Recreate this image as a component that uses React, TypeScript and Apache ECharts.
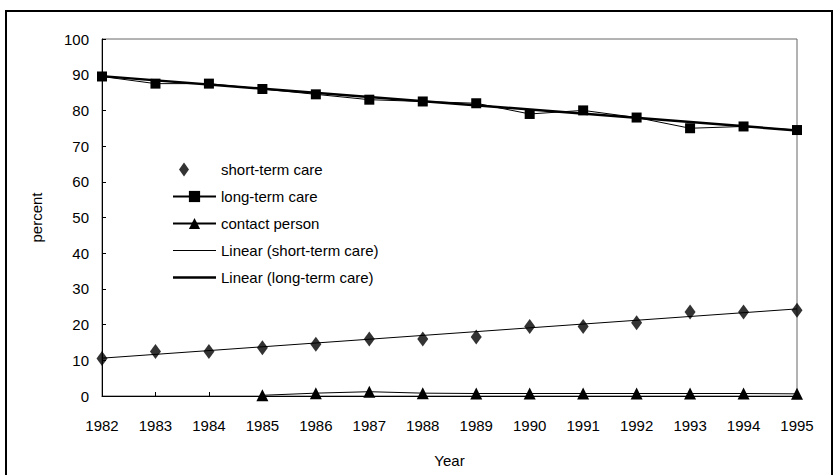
import React, { useEffect, useRef } from "react";
import * as echarts from "echarts";

const years = ["1982","1983","1984","1985","1986","1987","1988","1989","1990","1991","1992","1993","1994","1995"];
const shortTerm = [10.5, 12.5, 12.5, 13.5, 14.5, 16, 16, 16.5, 19.5, 19.5, 20.5, 23.5, 23.5, 24];
const longTerm = [89.5, 87.5, 87.5, 86, 84.5, 83, 82.5, 82, 79, 80, 78, 75, 75.5, 74.5];
const contact = [null, null, null, 0.2, 0.8, 1.2, 0.8, 0.7, 0.7, 0.7, 0.7, 0.7, 0.7, 0.6];
const linShort = [10.6, null, null, null, null, null, null, null, null, null, null, null, null, 24.4];
const linLong = [89.6, null, null, null, null, null, null, null, null, null, null, null, null, 74.4];

const diamondIcon = "path://M0,0M43,14M11,0L16,7L11,14L6,7Z";
const thinLineIcon = "path://M0,0M43,14M0,6.5L43,6.5L43,7.5L0,7.5Z";
const thickLineIcon = "path://M0,0M43,14M0,5.75L43,5.75L43,8.25L0,8.25Z";

export default function App() {
  const ref = useRef<HTMLDivElement>(null);
  useEffect(() => {
    const chart = echarts.init(ref.current!, null, { renderer: "svg" });
    const font = "Liberation Sans";
    chart.setOption({
      animation: false,
      backgroundColor: "#fff",
      textStyle: { fontFamily: font },
      graphic: [
        { type: "rect", shape: { x: 6, y: 11, width: 826, height: 480 }, style: { fill: "none", stroke: "#000", lineWidth: 2 } },
      ],
      grid: { left: 102, right: 38, top: 39, bottom: 79, show: true, borderColor: "#666", borderWidth: 1 },
      legend: {
        orient: "vertical",
        left: 167,
        top: 157,
        itemWidth: 43,
        itemHeight: 14,
        itemGap: 12,
        textStyle: { fontFamily: font, fontSize: 15, color: "#000" },
        data: [
          { name: "short-term care", icon: diamondIcon },
          { name: "long-term care" },
          { name: "contact person" },
          { name: "Linear (short-term care)", icon: thinLineIcon, itemStyle: { color: "#000", borderWidth: 0 } },
          { name: "Linear (long-term care)", icon: thickLineIcon, itemStyle: { color: "#000", borderWidth: 0 } },
        ],
      },
      xAxis: {
        type: "category",
        data: years,
        boundaryGap: false,
        name: "Year",
        nameLocation: "middle",
        nameGap: 57,
        nameTextStyle: { fontFamily: font, fontSize: 15, color: "#000" },
        axisLine: { lineStyle: { color: "#000", width: 1 } },
        axisTick: { show: true, inside: true, length: 4, lineStyle: { color: "#000" } },
        axisLabel: { fontFamily: font, fontSize: 15, color: "#000", margin: 22 },
        splitLine: { show: false },
      },
      yAxis: {
        type: "value",
        min: 0,
        max: 100,
        interval: 10,
        name: "percent",
        nameLocation: "middle",
        nameGap: 58,
        nameTextStyle: { fontFamily: font, fontSize: 15, color: "#000" },
        axisLine: { show: true, lineStyle: { color: "#000", width: 1 } },
        axisTick: { show: true, inside: true, length: 4, lineStyle: { color: "#000" } },
        axisLabel: { fontFamily: font, fontSize: 15, color: "#000", margin: 13 },
        splitLine: { show: false },
      },
      series: [
        {
          name: "short-term care",
          type: "scatter",
          data: shortTerm,
          symbol: "diamond",
          symbolSize: [11, 15],
          itemStyle: { color: "#000" },
          z: 5,
        },
        {
          name: "long-term care",
          type: "line",
          data: longTerm,
          symbol: "rect",
          symbolSize: 10,
          showSymbol: true,
          lineStyle: { color: "#000", width: 1 },
          itemStyle: { color: "#000" },
          z: 5,
        },
        {
          name: "contact person",
          type: "line",
          data: contact,
          symbol: "triangle",
          symbolSize: [12, 12],
          lineStyle: { color: "#000", width: 1 },
          itemStyle: { color: "#000" },
          z: 5,
        },
        {
          name: "Linear (short-term care)",
          type: "line",
          data: linShort,
          connectNulls: true,
          showSymbol: false,
          lineStyle: { color: "#000", width: 1 },
          itemStyle: { color: "#000" },
        },
        {
          name: "Linear (long-term care)",
          type: "line",
          data: linLong,
          connectNulls: true,
          showSymbol: false,
          lineStyle: { color: "#000", width: 2.5 },
          itemStyle: { color: "#000" },
        },
      ],
    });
    return () => chart.dispose();
  }, []);
  return <div ref={ref} style={{ position: "fixed", left: 0, top: 0, width: 835, height: 475 }} />;
}
